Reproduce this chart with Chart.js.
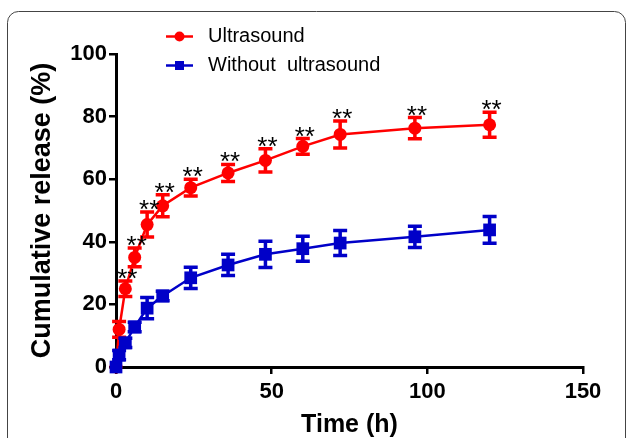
<!DOCTYPE html>
<html>
<head>
<meta charset="utf-8">
<script src="https://cdn.jsdelivr.net/npm/chart.js@4/dist/chart.umd.min.js"></script>
<style>
  html, body { margin: 0; padding: 0; background: #fff; }
  #wrap { width: 627px; height: 438px; position: relative; }
</style>
</head>
<body>
<div id="wrap"><canvas id="releaseChart"></canvas></div>
<script>
// sampling times (h)
const times = [0, 1, 3, 6, 10, 15, 24, 36, 48, 60, 72, 96, 120];

// cumulative release (%) and error (+/-) for each group
const ultrasound = [0, 12, 25, 35, 45.5, 51.5, 57.3, 62, 66, 70.5, 74.3, 76.3, 77.4];
const ultrasoundErr = [0, 2.5, 2.5, 3, 4, 3.5, 2.7, 2.7, 3.7, 2.5, 4.3, 3.4, 4];
const withoutUs = [0, 3.8, 7.7, 12.8, 18.8, 22.7, 28.5, 32.6, 36, 37.8, 39.6, 41.6, 43.8];
const withoutUsErr = [0, 1.5, 1.5, 1.5, 3.4, 1.5, 3.4, 3.4, 4.2, 4, 4, 3.4, 4.3];

// significance marks shown above the ultrasound points
const sigMarks = ['', '', '**', '**', '**', '**', '**', '**', '**', '**', '**', '**', '**'];

const xTicks = [0, 50, 100, 150];
const yTicks = [0, 20, 40, 60, 80, 100];

const RED = '#ff0000';
const BLUE = '#0000c8';
const FONT = '"Liberation Sans", Arial, Helvetica, sans-serif';

function pts(ys) {
  return times.map((t, i) => ({ x: t, y: ys[i] }));
}

// error bars, drawn per dataset just before its line/markers
const errorBars = {
  id: 'errorBars',
  beforeDatasetDraw(chart, args) {
    const ds = chart.data.datasets[args.index];
    if (!ds.errors) return;
    const { ctx, scales: { x, y } } = chart;
    ctx.save();
    ctx.strokeStyle = ds.borderColor;
    ctx.lineWidth = 3.5;
    ds.data.forEach((p, i) => {
      const e = ds.errors[i];
      if (!e) return;
      const px = x.getPixelForValue(p.x);
      const top = y.getPixelForValue(p.y + e);
      const bot = y.getPixelForValue(p.y - e);
      ctx.beginPath();
      ctx.moveTo(px, top); ctx.lineTo(px, bot);
      ctx.moveTo(px - 7, top); ctx.lineTo(px + 7, top);
      ctx.moveTo(px - 7, bot); ctx.lineTo(px + 7, bot);
      ctx.stroke();
    });
    ctx.restore();
  }
};

// "**" above the upper error cap of the ultrasound series
const sigLabels = {
  id: 'sigLabels',
  afterDatasetsDraw(chart) {
    const { ctx, scales: { x, y } } = chart;
    ctx.save();
    ctx.fillStyle = '#000';
    ctx.font = '26px ' + FONT;
    ctx.textAlign = 'center';
    ctx.textBaseline = 'alphabetic';
    times.forEach((t, i) => {
      if (!sigMarks[i]) return;
      const px = x.getPixelForValue(t) + 2;
      const py = y.getPixelForValue(ultrasound[i] + ultrasoundErr[i]) + 6;
      ctx.fillText(sigMarks[i], px, py);
    });
    ctx.restore();
  }
};

// rounded frame round the figure + hand-drawn legend
const frameAndLegend = {
  id: 'frameAndLegend',
  beforeDraw(chart) {
    const ctx = chart.ctx;
    ctx.save();
    ctx.strokeStyle = '#444';
    ctx.lineWidth = 1;
    ctx.beginPath();
    ctx.roundRect(7.5, 11.5, 618, 460, 11);
    ctx.stroke();
    ctx.restore();
  },
  afterDraw(chart) {
    const ctx = chart.ctx;
    const items = [
      { label: 'Ultrasound', color: RED, shape: 'circle', y: 36.5 },
      { label: 'Without  ultrasound', color: BLUE, shape: 'square', y: 65.5 }
    ];
    ctx.save();
    items.forEach(it => {
      ctx.strokeStyle = it.color;
      ctx.fillStyle = it.color;
      ctx.lineWidth = 2.5;
      ctx.beginPath();
      ctx.moveTo(166, it.y); ctx.lineTo(193, it.y);
      ctx.stroke();
      if (it.shape === 'circle') {
        ctx.beginPath();
        ctx.arc(179.5, it.y, 5, 0, Math.PI * 2);
        ctx.fill();
      } else {
        ctx.fillRect(175, it.y - 4.5, 9, 9);
      }
      ctx.fillStyle = '#000';
      ctx.font = '20px ' + FONT;
      ctx.textAlign = 'left';
      ctx.textBaseline = 'middle';
      ctx.fillText(it.label, 208, it.y);
    });
    ctx.restore();
  }
};

const ctx = document.getElementById('releaseChart').getContext('2d');

new Chart(ctx, {
  type: 'line',
  data: {
    datasets: [
      {
        label: 'Ultrasound',
        data: pts(ultrasound),
        errors: ultrasoundErr,
        borderColor: RED,
        backgroundColor: RED,
        borderWidth: 2.5,
        pointStyle: 'circle',
        pointRadius: 6.5,
        pointBorderWidth: 0,
        tension: 0,
        clip: false,
        order: 1
      },
      {
        label: 'Without  ultrasound',
        data: pts(withoutUs),
        errors: withoutUsErr,
        borderColor: BLUE,
        backgroundColor: BLUE,
        borderWidth: 2.5,
        pointStyle: 'rect',
        pointRadius: 9,
        pointBorderWidth: 0,
        tension: 0,
        clip: false,
        order: 0
      }
    ]
  },
  options: {
    responsive: true,
    maintainAspectRatio: false,
    animation: false,
    layout: { padding: { left: 0, top: 54, right: 44, bottom: 0 } },
    plugins: {
      legend: { display: false },
      tooltip: { enabled: false }
    },
    scales: {
      x: {
        type: 'linear',
        min: 0,
        max: 150,
        afterFit(s) { s.height = 71; },
        afterBuildTicks(s) { s.ticks = xTicks.map(v => ({ value: v })); },
        grid: { display: true, drawOnChartArea: false, drawTicks: true, tickLength: 7, color: '#000', lineWidth: 2.5 },
        border: { display: true, color: '#000', width: 3 },
        ticks: { color: '#000', padding: 5, maxRotation: 0, autoSkip: false, font: { family: FONT, size: 22, weight: 'bold' } },
        title: { display: true, text: 'Time (h)', color: '#000', padding: { top: 0, bottom: 0 }, font: { family: FONT, size: 25, weight: 'bold', lineHeight: 1 } }
      },
      y: {
        type: 'linear',
        min: 0,
        max: 100,
        afterFit(s) { s.width = 116; },
        afterBuildTicks(s) { s.ticks = yTicks.map(v => ({ value: v })); },
        grid: { display: true, drawOnChartArea: false, drawTicks: true, tickLength: 7, color: '#000', lineWidth: 2.5 },
        border: { display: true, color: '#000', width: 3 },
        ticks: { color: '#000', padding: 2, font: { family: FONT, size: 22, weight: 'bold' } },
        title: { display: true, text: 'Cumulative release (%)', color: '#000', padding: { top: 26, bottom: 0 }, font: { family: FONT, size: 27, weight: 'bold', lineHeight: 1.2 } }
      }
    }
  },
  plugins: [frameAndLegend, errorBars, sigLabels]
});
</script>
</body>
</html>
